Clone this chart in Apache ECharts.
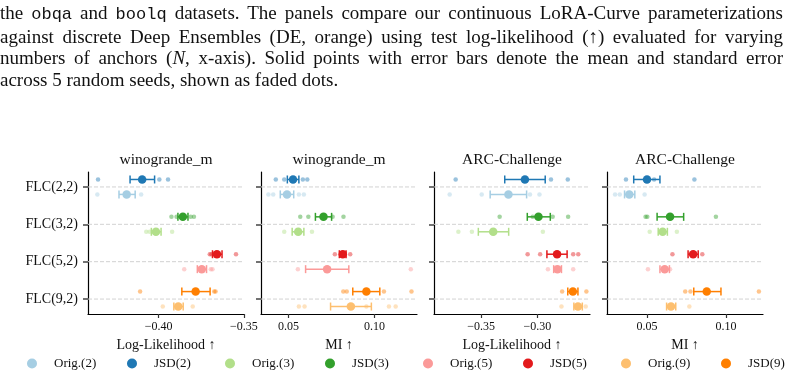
<!DOCTYPE html>
<html>
<head>
<meta charset="utf-8">
<script src="https://cdn.jsdelivr.net/npm/echarts@6/dist/echarts.min.js"></script>
<style>
  html, body { margin: 0; padding: 0; background: #fff; }
  #chart { position: absolute; left: 0; top: 0; width: 805px; height: 377px; }
  #caption { position: absolute; left: 0; top: 2px; width: 783px; font-family: 'Liberation Serif', serif;
    font-size: 19px; line-height: 21.6px; color: #111; z-index: 2; }
  #caption .j { text-align: justify; text-align-last: justify; }
  #caption tt { font-family: 'Liberation Mono', monospace; font-size: 17px; }
</style>
</head>
<body>
<div id="chart"></div>
<div id="caption">
  <div class="j">the <tt>obqa</tt> and <tt>boolq</tt> datasets. The panels compare our continuous LoRA-Curve parameterizations</div>
  <div class="j">against discrete Deep Ensembles (DE, orange) using test log-likelihood (&#8593;) evaluated for varying</div>
  <div class="j">numbers of anchors (<i>N</i>, x-axis). Solid points with error bars denote the mean and standard error</div>
  <div>across 5 random seeds, shown as faded dots.</div>
</div>
<script>
const categories = ['FLC(2,2)', 'FLC(3,2)', 'FLC(5,2)', 'FLC(9,2)'];
const panelTitles = ['winogrande_m', 'winogrande_m', 'ARC-Challenge', 'ARC-Challenge'];
const metricNames = ['Log-Likelihood \u2191', 'MI \u2191', 'Log-Likelihood \u2191', 'MI \u2191'];
const xTicks = [[-0.40, -0.35], [0.05, 0.10], [-0.35, -0.30], [0.05, 0.10]];

const origNames = ['Orig.(2)', 'Orig.(3)', 'Orig.(5)', 'Orig.(9)'];
const jsdNames = ['JSD(2)', 'JSD(3)', 'JSD(5)', 'JSD(9)'];
const origColors = ['#a6cee3', '#b2df8a', '#fb9a99', '#fdbf6f'];
const jsdColors = ['#1f78b4', '#33a02c', '#e31a1c', '#ff7f00'];

// winogrande_m, log-likelihood
const winoLLOrigMean = [-0.4188, -0.4016, -0.3747, -0.3885];
const winoLLOrigLo = [-0.4233, -0.4043, -0.3773, -0.3911];
const winoLLOrigHi = [-0.4138, -0.3986, -0.3719, -0.3856];
const winoLLJsdMean = [-0.4097, -0.3858, -0.3658, -0.3783];
const winoLLJsdLo = [-0.4168, -0.3887, -0.3684, -0.3864];
const winoLLJsdHi = [-0.4024, -0.3828, -0.3628, -0.3698];
const winoLLOrigSeeds = [[-0.4360, -0.4103], [-0.4073, -0.4053, -0.3921], [-0.3850, -0.3694, -0.3684], [-0.3976, -0.3800]];
const winoLLJsdSeeds = [[-0.4356, -0.3996, -0.3945], [-0.3925, -0.3895, -0.3812, -0.3793], [-0.3700, -0.3690, -0.3546], [-0.4109, -0.3674, -0.3666]];

// winogrande_m, MI
const winoMIOrigMean = [0.0492, 0.0557, 0.0725, 0.0863];
const winoMIOrigLo = [0.0453, 0.0522, 0.0600, 0.0745];
const winoMIOrigHi = [0.0531, 0.0590, 0.0851, 0.0982];
const winoMIJsdMean = [0.0527, 0.0704, 0.0816, 0.0953];
const winoMIJsdLo = [0.0494, 0.0657, 0.0796, 0.0874];
const winoMIJsdHi = [0.0561, 0.0751, 0.0835, 0.1031];
const winoMIOrigSeeds = [[0.0384, 0.0412, 0.0561, 0.0590], [0.0476, 0.0637], [0.0555, 0.1211], [0.0561, 0.0594, 0.0953, 0.1084, 0.1123]];
const winoMIJsdSeeds = [[0.0427, 0.0476, 0.0584, 0.0610], [0.0569, 0.0616, 0.0757, 0.0820], [0.0770, 0.0859], [0.0819, 0.0839, 0.1055, 0.1215]];

// ARC-Challenge, log-likelihood
const arcLLOrigMean = [-0.3257, -0.3392, -0.2823, -0.2641];
const arcLLOrigLo = [-0.3419, -0.3524, -0.2856, -0.2677];
const arcLLOrigHi = [-0.3096, -0.3255, -0.2787, -0.2602];
const arcLLJsdMean = [-0.3111, -0.2991, -0.2826, -0.2686];
const arcLLJsdLo = [-0.3290, -0.3090, -0.2916, -0.2731];
const arcLLJsdHi = [-0.2931, -0.2886, -0.2737, -0.2641];
const arcLLOrigSeeds = [[-0.3778, -0.3494, -0.3066, -0.2982], [-0.3701, -0.3581, -0.2952], [-0.2907, -0.2683], [-0.2787, -0.2572]];
const arcLLJsdSeeds = [[-0.3725, -0.2880, -0.2731], [-0.3335, -0.3042, -0.2865, -0.2728], [-0.3087, -0.2976, -0.2683, -0.2638], [-0.2781, -0.2566]];

// ARC-Challenge, MI
const arcMIOrigMean = [0.0388, 0.0599, 0.0612, 0.0652];
const arcMIOrigLo = [0.0358, 0.0571, 0.0582, 0.0624];
const arcMIOrigHi = [0.0423, 0.0629, 0.0642, 0.0682];
const arcMIJsdMean = [0.0500, 0.0646, 0.0792, 0.0878];
const arcMIJsdLo = [0.0416, 0.0564, 0.0760, 0.0796];
const arcMIJsdHi = [0.0582, 0.0732, 0.0824, 0.0968];
const arcMIOrigSeeds = [[0.0298, 0.0328, 0.0485], [0.0517, 0.0689], [0.0506, 0.0646], [0.0768]];
const arcMIJsdSeeds = [[0.0367, 0.0545, 0.0800], [0.0491, 0.0502, 0.0936], [0.0661, 0.0850], [0.0742, 0.0775, 0.1208]];

const panels = [
  { orig: [winoLLOrigMean, winoLLOrigLo, winoLLOrigHi, winoLLOrigSeeds], jsd: [winoLLJsdMean, winoLLJsdLo, winoLLJsdHi, winoLLJsdSeeds] },
  { orig: [winoMIOrigMean, winoMIOrigLo, winoMIOrigHi, winoMIOrigSeeds], jsd: [winoMIJsdMean, winoMIJsdLo, winoMIJsdHi, winoMIJsdSeeds] },
  { orig: [arcLLOrigMean, arcLLOrigLo, arcLLOrigHi, arcLLOrigSeeds], jsd: [arcLLJsdMean, arcLLJsdLo, arcLLJsdHi, arcLLJsdSeeds] },
  { orig: [arcMIOrigMean, arcMIOrigLo, arcMIOrigHi, arcMIOrigSeeds], jsd: [arcMIJsdMean, arcMIJsdLo, arcMIJsdHi, arcMIJsdSeeds] },
];

// layout
const FONT = "'Liberation Serif', serif";
const gridLefts = [88, 261, 434, 607];
const gridWidth = 156;
const xRanges = [[-0.4415, -0.3499], [0.0341, 0.1247], [-0.3917, -0.2534], [0.0247, 0.1234]];
const legendCenters = [32, 132, 230, 330, 428, 528, 626, 726];

function fmtTick(v) {
  const s = Math.abs(v).toFixed(2);
  return v < 0 ? '\u2212' + s : s;
}

function renderErr(params, api) {
  const y = api.value(2);
  const a = api.coord([api.value(0), y]);
  const b = api.coord([api.value(1), y]);
  const h = 4;
  const style = { stroke: api.visual('color'), lineWidth: 1.5, fill: null };
  return {
    type: 'group',
    children: [
      { type: 'line', shape: { x1: a[0], y1: a[1], x2: b[0], y2: b[1] }, style },
      { type: 'line', shape: { x1: a[0], y1: a[1] - h, x2: a[0], y2: a[1] + h }, style },
      { type: 'line', shape: { x1: b[0], y1: b[1] - h, x2: b[0], y2: b[1] + h }, style },
    ],
  };
}

function renderGridLine(params, api) {
  const cs = params.coordSys;
  const y = api.coord([0, api.value(0)])[1];
  return {
    type: 'line',
    shape: { x1: cs.x, y1: y, x2: cs.x + cs.width, y2: y },
    style: { stroke: '#d2d2d2', lineWidth: 1, lineDash: [4, 2] },
  };
}

const grids = [], xAxes = [], yAxes = [], series = [], graphics = [];

panels.forEach((pan, p) => {
  grids.push({ left: gridLefts[p], width: gridWidth, top: 172, height: 142 });
  xAxes.push({
    gridIndex: p, type: 'value', min: xRanges[p][0], max: xRanges[p][1],
    axisLine: { show: true, onZero: false, lineStyle: { color: '#000', width: 1.2 } },
    axisTick: { show: true, customValues: xTicks[p], length: 4, lineStyle: { color: '#333', width: 1.2 } },
    axisLabel: { customValues: xTicks[p], formatter: fmtTick, margin: 7, fontSize: 12, fontFamily: FONT, color: '#111' },
    splitLine: { show: false },
    name: metricNames[p], nameLocation: 'middle', nameGap: 24,
    nameTextStyle: { fontSize: 14, fontFamily: FONT, color: '#111' },
  });
  yAxes.push({
    gridIndex: p, type: 'value', inverse: true, min: -0.4, max: 3.4,
    axisLine: { show: true, onZero: false, lineStyle: { color: '#000', width: 1.2 } },
    axisTick: { show: true, customValues: [0, 1, 2, 3], length: 5, lineStyle: { color: '#444', width: 1.5 } },
    axisLabel: {
      show: p === 0, customValues: [0, 1, 2, 3], formatter: (v) => categories[Math.round(v)],
      margin: 10, fontSize: 14, fontFamily: FONT, color: '#111',
    },
    splitLine: { show: false },
  });
  graphics.push({
    type: 'text', x: gridLefts[p] + gridWidth / 2, y: 160,
    style: { text: panelTitles[p], align: 'center', verticalAlign: 'middle', fontSize: 15.5, fontFamily: FONT, fill: '#111' },
  });
  series.push({
    type: 'custom', xAxisIndex: p, yAxisIndex: p, renderItem: renderGridLine, silent: true, z: 1,
    data: [[0], [1], [2], [3]], encode: { y: 0 },
  });

  [['orig', origNames, origColors, 0.2], ['jsd', jsdNames, jsdColors, -0.2]].forEach(([kind, names, colors, off]) => {
    const [mean, lo, hi, seeds] = pan[kind];
    categories.forEach((c, k) => {
      const y = k + off;
      series.push({
        name: names[k], type: 'scatter', xAxisIndex: p, yAxisIndex: p, z: 5,
        symbolSize: 8.5, itemStyle: { color: colors[k], opacity: 1 },
        data: [[mean[k], y]],
      });
      series.push({
        name: names[k], type: 'custom', xAxisIndex: p, yAxisIndex: p, z: 4,
        renderItem: renderErr, itemStyle: { color: colors[k] },
        encode: { x: [0, 1], y: 2 }, data: [[lo[k], hi[k], y]],
      });
      series.push({
        name: names[k], type: 'scatter', xAxisIndex: p, yAxisIndex: p, z: 3,
        symbolSize: 4.5, itemStyle: { color: colors[k], opacity: 0.45 },
        data: seeds[k].map((v) => [v, y]),
      });
    });
  });
});

const legendNames = [];
origNames.forEach((n, i) => { legendNames.push(n, jsdNames[i]); });
const legends = legendNames.map((n, i) => ({
  data: [{ name: n, icon: 'circle' }], left: legendCenters[i] - 5, top: 357,
  itemWidth: 10, itemHeight: 10, itemGap: 0, padding: 0, selectedMode: false,
  textStyle: { fontSize: 13, fontFamily: FONT, color: '#111', padding: [0, 0, 0, 12] },
}));

const chart = echarts.init(document.getElementById('chart'));
chart.setOption({
  animation: false,
  backgroundColor: '#fff',
  grid: grids, xAxis: xAxes, yAxis: yAxes,
  legend: legends,
  graphic: graphics,
  series: series,
});
</script>
</body>
</html>
